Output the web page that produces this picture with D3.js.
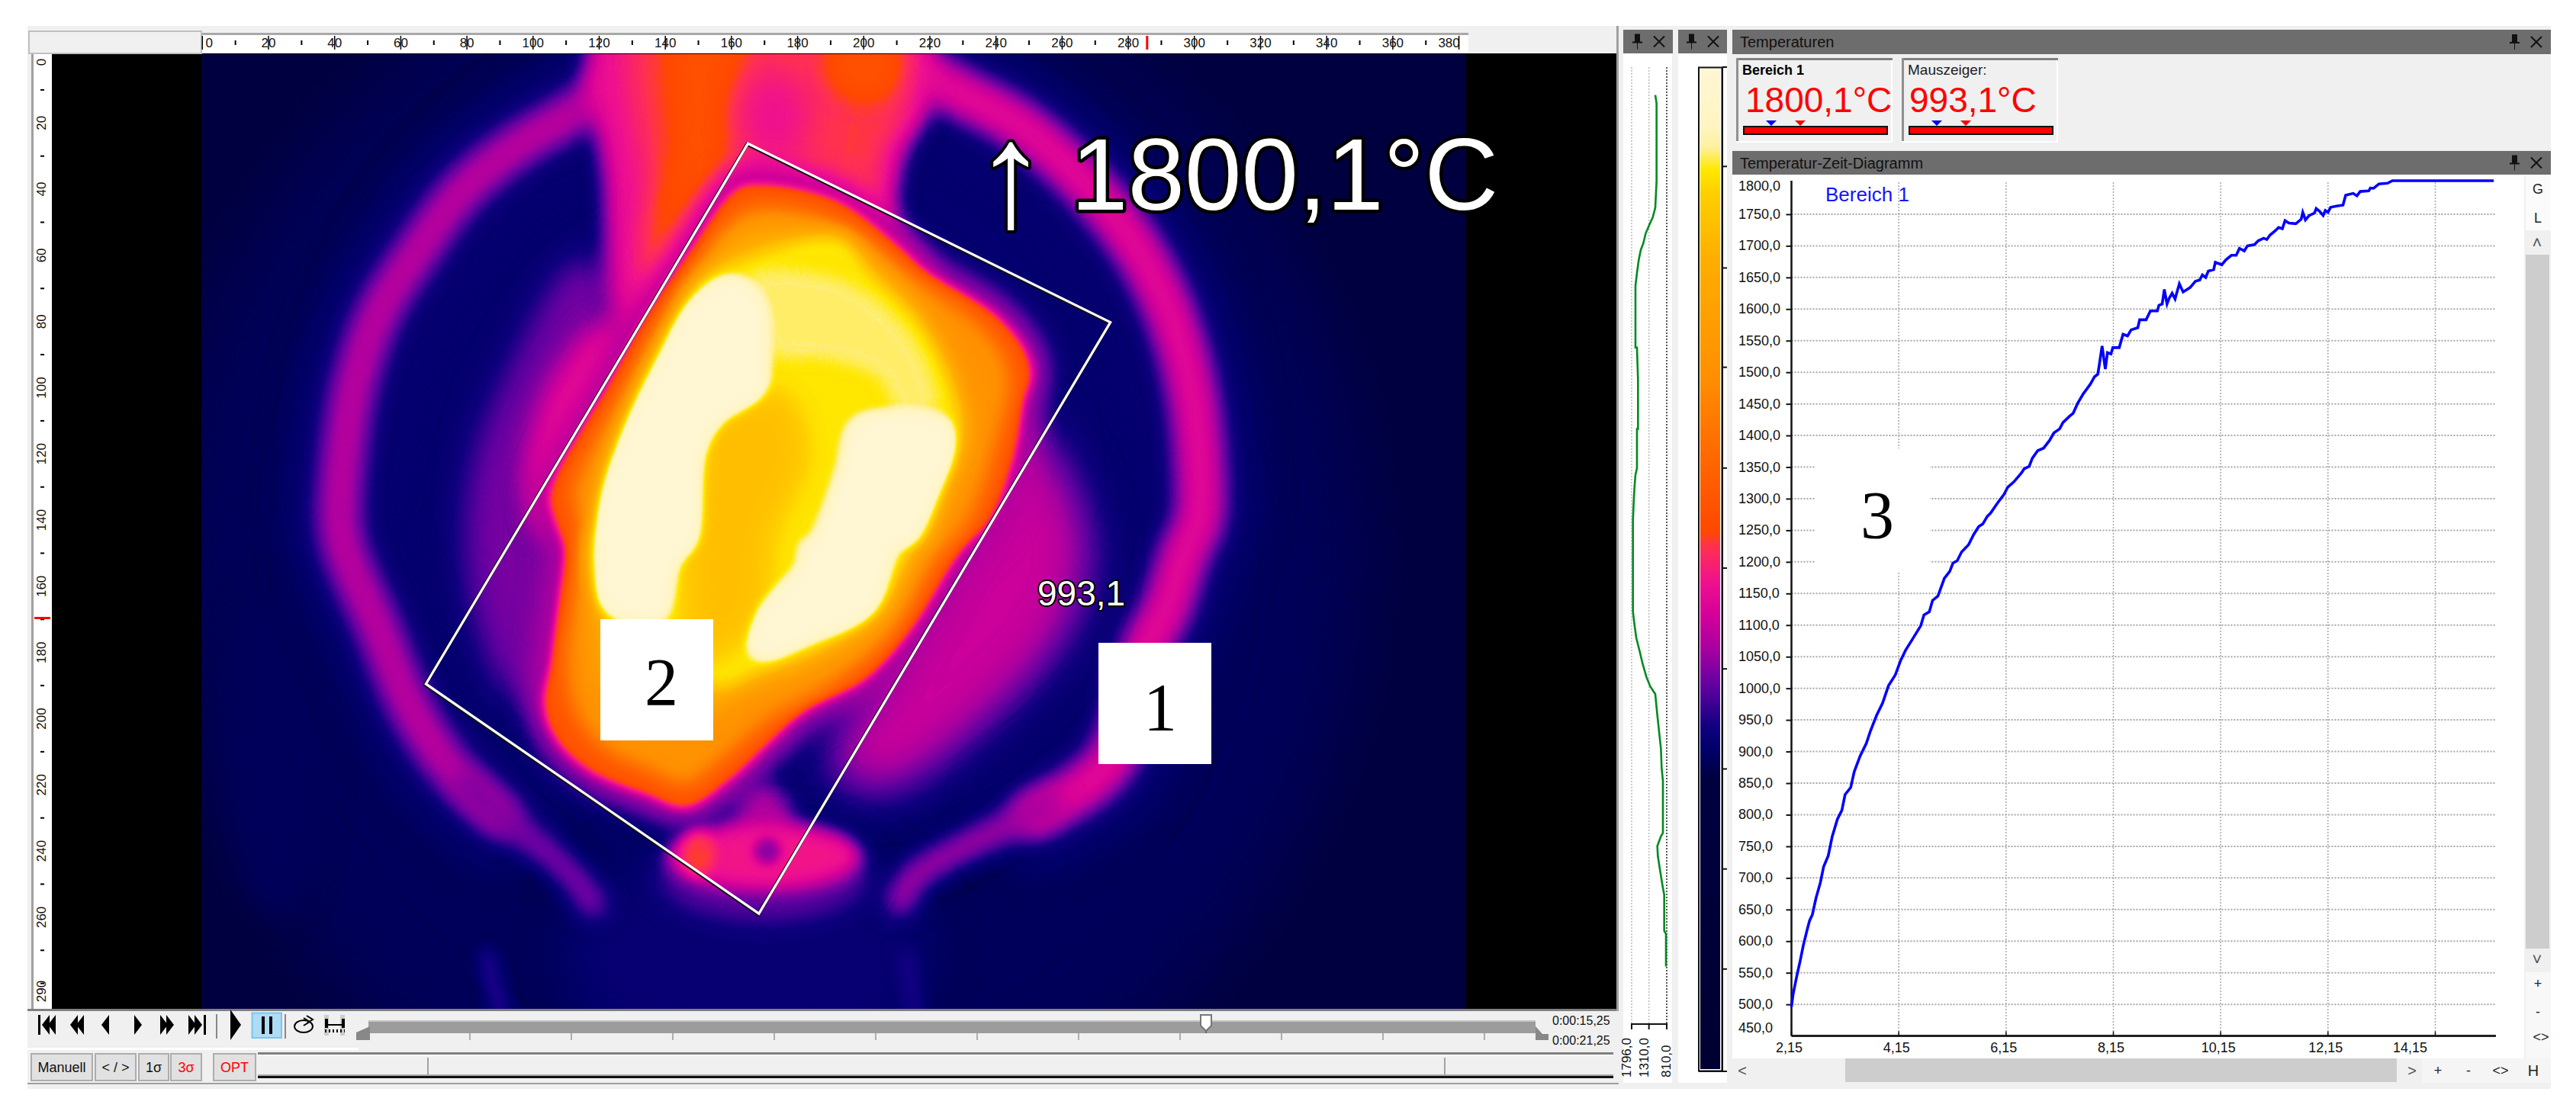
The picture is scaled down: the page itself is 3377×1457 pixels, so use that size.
<!DOCTYPE html>
<html>
<head>
<meta charset="utf-8">
<script src="https://cdn.jsdelivr.net/npm/d3@7"></script>
<style>
html, body { margin: 0; padding: 0; background: #fff; }
svg { display: block; }
text { font-family: "Liberation Sans", Arial, sans-serif; }
</style>
</head>
<body>
<div id="chart"></div>
<script>
// temperature-time curve
var curveTime = [2.15,2.18,2.245,2.31,2.37,2.435,2.486,2.54,2.607,2.69,2.75,2.835,2.91,3.007,3.09,3.15,3.254,3.32,3.43,3.546,3.62,3.736,3.85,3.958,4.085,4.18,4.276,4.40,4.56,4.62,4.72,4.78,4.88,5.0,5.1,5.16,5.24,5.32,5.45,5.545,5.64,5.716,5.8,5.86,5.99,6.115,6.18,6.3,6.44,6.485,6.58,6.64,6.74,6.85,6.96,7.04,7.15,7.21,7.34,7.40,7.485,7.59,7.72,7.80,7.86,7.89,7.94,7.97,8.0,8.04,8.105,8.14,8.26,8.33,8.415,8.48,8.605,8.64,8.76,8.84,8.97,9.0,9.06,9.1,9.15,9.19,9.245,9.3,9.38,9.45,9.58,9.68,9.76,9.81,9.87,9.92,10.02,10.05,10.17,10.25,10.35,10.44,10.5,10.59,10.65,10.78,10.85,10.95,11.01,11.07,11.17,11.23,11.3,11.35,11.42,11.55,11.65,11.68,11.73,11.8,11.9,11.93,11.99,12.06,12.1,12.15,12.2,12.31,12.43,12.48,12.62,12.69,12.75,12.91,12.94,13.0,13.1,13.26,13.35,15.24];
var curveTemp = [496,515.6,543,568,593,615.6,632,642,668,693,718,735,765.6,793,807,832,843,868,893,913,932,957,977,1004,1021,1043,1060,1077,1099,1116,1121,1139,1146,1174,1185,1198,1202,1215.6,1227,1243,1256,1260,1272,1277,1293,1307,1318,1327,1341,1347,1351,1364,1376,1380,1392,1404,1410.5,1420.5,1431,1435,1451,1466,1481,1493,1497,1513,1541.5,1523,1505,1531,1529,1539,1539,1560,1557.5,1567,1570.5,1583,1583,1597,1597,1606,1608,1631,1608,1617,1625,1616,1640,1627,1634,1644,1646,1654,1650,1660,1662.5,1674,1670,1678,1685,1685,1696,1692,1700,1702,1708,1712,1710,1717,1724,1729,1727,1740,1736,1735,1742,1753,1741,1748,1752,1759,1755,1748,1756,1753,1761,1763,1764.5,1780,1783,1779,1786,1787,1791.5,1791,1798,1799,1803,1803];
var yTicks = [500,550,600,650,700,750,800,850,900,950,1000,1050,1100,1150,1200,1250,1300,1350,1400,1450,1500,1550,1600,1650,1700,1750];
var yLabels = [450,500,550,600,650,700,750,800,850,900,950,1000,1050,1100,1150,1200,1250,1300,1350,1400,1450,1500,1550,1600,1650,1700,1750,1800];
var xTicks = [2.15,4.15,6.15,8.15,10.15,12.15,14.15];

// line profile next to the thermal image: image row and temperature
var profileRow = [8.4,8.4,10.9,34.4,42.3,45.2,47.2,50.1,53,55,58,61.9,65.8,84.4,84.4,94.2,108.9,108.9,120.7,122.7,126.6,129.5,136.4,163.8,167.8,171.7,175.6,179.5,183.5,186.4,188.7,194.2,200.1,205,210.9,214.8,230.5,231.5,234.4,237.4,242.3,246.2,249.1,259.9,260.9,270.7];
var profileTemp = [1132,1132,1096,1096,1132,1203,1289,1403,1467,1539,1596,1646,1689,1689,1646,1617,1617,1646,1646,1689,1717,1732,1760,1760,1717,1667,1575,1489,1382,1274,1132,1082,1024,974,953,917,917,974,1074,1060,989,931,881,881,831,831];
var profileTicks = [1796,1310,810];

// colour bar
var paletteTemp = [450,843,880,913,966,1018,1062,1106,1154,1176,1282,1387,1545,1633,1664,1694,1721,1800];
var paletteColor = ["#000030","#000040","#000068","#100080","#6000a0","#a800a0","#d40098","#ee1090","#ff3050","#ff4800","#ff6a00","#ff9000","#ffae00","#ffd000","#ffe800","#fff0a0","#fff5c0","#fff6d4"];
var barTicks = [1668,1531,1397,1261,1126,990,855,720,585];

// rulers of the thermal image
var columnTicks = d3.range(0, 390, 10);
var rowTicks = d3.range(0, 290, 10);
var rowLabels = [0,20,40,60,80,100,120,140,160,180,200,220,240,260,290];

// region outline
var regionOutline = [[165,26.2],[274.6,80.2],[168.3,258.9],[67.6,189.5]];

// thermal scene, image units (column, row)
var ringLeft = [[122,8],[115,15],[95,27],[79,40],[65.5,58],[53,78],[45.8,100],[42.7,120],[41.4,140],[43,149],[52.9,172],[62.7,196],[75,215],[89.7,229]];
var ringLeftLow = [[80,220],[89.7,229],[104,240],[114,250],[118,256]];
var ringRight = [[205,-5],[211,0],[227,9.75],[245.8,19.8],[260.6,31.8],[274,46],[284,60],[292.8,78],[299,100],[301.4,120],[301.4,140],[297.3,149],[291.2,167.6],[286,177],[274,213.7],[251.9,228.8]];
var ringRightLow = [[256,226],[240,234],[226,241],[215,248],[211,255]];
var glowLeft = [[115,60],[130,80],[120,110],[112,145],[110,185],[95,195],[82,170],[80,130],[92,95]];
var glowLeftCore = [[122,80],[128,88],[112,125],[105,145],[98,130],[105,100]];
var glowRight = [[248,110],[262,128],[268,150],[262,172],[240,198],[205,222],[190,215],[205,185],[230,140]];
var chimneyOuter = [[121,-12],[214,-12],[220,14],[212,30],[210,50],[222,70],[180,70],[130,95],[124,75],[122,40]];
var chimneyInner = [[133,-12],[210,-12],[213,14],[205,30],[203,52],[180,60],[136,80],[134,40]];
var chimneyHot = [[143,-12],[162,-12],[160,20],[158,42],[140,75],[136,60],[142,30]];
var bodyOuter = [[164.4,38.75],[190.2,42.75],[211.2,57.75],[218.6,64.75],[239.6,77.75],[248.3,87.75],[250.8,95.75],[248.3,104.75],[245.8,119.75],[238.4,139.75],[229.8,148.8],[215,172],[200.3,188.3],[183,196.8],[170.8,208],[158.5,219.4],[146.2,226.9],[134,223],[116.7,215.6],[106.9,206.2],[103.2,195.8],[105.7,181.7],[108.1,163],[109.4,148.8],[106.3,139.75],[105.1,132],[122.4,99.75],[134.8,77.75],[147,59.75],[159.5,41.75]];
var bodyMid = [[165,46],[192,50],[212,65],[236,82],[244,95],[240,118],[232,140],[222,152],[208,175],[190,190],[172,200],[155,214],[146,220],[136,216],[120,208],[112,196],[110,180],[113,160],[114,140],[112,132],[128,100],[140,78],[152,60]];
var bodyInner = [[163,54],[192,54],[210,68],[226,90],[232,112],[226,132],[216,150],[205,170],[185,184],[165,192],[148,200],[125,195],[118,170],[118,140],[125,115],[140,85],[152,65]];
var bodyYellow = [[159.5,62],[192.6,54],[202.6,64.75],[217.4,79.75],[227.3,99.75],[229.8,114.75],[224.8,130],[218.6,146.5],[215,148.8],[205,167.6],[185.5,179.8],[168.3,186.4],[156,191],[135,182],[121.6,169.5],[119.2,163],[116.7,148.8],[120,139.75],[122.4,124.75],[132.3,99.75],[141,81.75],[149.6,67.75]];
var bodyCentre = [[152,110],[175,102],[182,120],[172,145],[168,170],[150,182],[146,160],[148,130]];
var creamLeft = [[159.5,66.75],[168,72],[170.6,89.75],[169.4,101.75],[157,110.75],[152,119.75],[149.6,146.5],[143.8,153.5],[138.9,169.5],[121.6,166.7],[119.2,148.8],[120,135],[128.6,110],[138.5,90],[147.1,74.75]];
var creamTop = [[165,66],[190,66],[206,75],[218,90],[222,108],[212,112],[205,98],[190,92],[172,90],[168,78]];
var creamRight = [[197.6,110],[224.8,110],[227,118],[221,135],[214.9,146.5],[210,148.8],[202.7,167.6],[183,177],[170.8,181.7],[166,180],[168.3,167.6],[180.6,153.5],[181.8,147],[184,146.5],[192.6,125.75]];

var width = 3377;
var height = 1457;

var svg = d3.select("#chart").append("svg")
	.attr("width", width)
	.attr("height", height);

var xImg = d3.scaleLinear().domain([0, 380]).range([265.3, 1912.6]);
var yImg = d3.scaleLinear().domain([0, 288]).range([74.5, 1324.4]);

function box(x0, y0, x1, y1, fill, stroke, sw) {
	return svg.append("rect")
		.attr("x", x0).attr("y", y0)
		.attr("width", x1 - x0).attr("height", y1 - y0)
		.attr("fill", fill)
		.attr("stroke", stroke || "none")
		.attr("stroke-width", sw || 0);
}
function label(x, y, str, size, color, opts) {
	opts = opts || {};
	var t = svg.append("text")
		.attr("x", x).attr("y", y)
		.attr("font-size", size)
		.attr("fill", color || "#000")
		.attr("text-anchor", opts.anchor || "start")
		.text(str);
	if (opts.weight) t.attr("font-weight", opts.weight);
	if (opts.family) t.style("font-family", opts.family);
	if (opts.rotate) t.attr("transform", "rotate(" + opts.rotate + " " + x + " " + y + ")");
	return t;
}
function shape(points, fill) {
	return svg.append("path")
		.attr("d", "M" + points.map(function(p) { return p.join(","); }).join("L") + "Z")
		.attr("fill", fill);
}
function seg(x0, y0, x1, y1, color, sw, dash) {
	var l = svg.append("line")
		.attr("x1", x0).attr("y1", y0).attr("x2", x1).attr("y2", y1)
		.attr("stroke", color).attr("stroke-width", sw || 1);
	if (dash) l.attr("stroke-dasharray", dash);
	return l;
}

// window background
box(36, 34, 3344, 1428, "#f0f0f0");

// ---- thermal image ----
box(68, 70, 2119, 1323, "#000");

var imgX0 = 264, imgY0 = 71, imgW = 1658, imgH = 1252;
var palette = d3.scaleLinear().domain(paletteTemp).range(paletteColor).clamp(true);
var toGray = d3.scaleLinear().domain([450, 1800]).range([0, 255]).clamp(true);

var field = document.createElement("canvas");
field.width = imgW;
field.height = imgH;
var ctx = field.getContext("2d", { willReadFrequently: true });

function grayOf(temp) {
	var g = Math.round(toGray(temp));
	return "rgb(" + g + "," + g + "," + g + ")";
}
var fieldClosed = d3.line()
	.x(function(d) { return xImg(d[0]) - imgX0; })
	.y(function(d) { return yImg(d[1]) - imgY0; })
	.curve(d3.curveCatmullRomClosed.alpha(0.5))
	.context(ctx);
var fieldOpen = d3.line()
	.x(function(d) { return xImg(d[0]) - imgX0; })
	.y(function(d) { return yImg(d[1]) - imgY0; })
	.curve(d3.curveCatmullRom.alpha(0.5))
	.context(ctx);

function fillArea(points, temp, blur) {
	ctx.filter = "blur(" + blur + "px)";
	ctx.fillStyle = grayOf(temp);
	ctx.beginPath();
	fieldClosed(points);
	ctx.fill();
}
function strokeArea(points, temp, lineW, blur, closed) {
	ctx.filter = "blur(" + blur + "px)";
	ctx.strokeStyle = grayOf(temp);
	ctx.lineWidth = lineW * 4.335;
	ctx.lineCap = "round";
	ctx.lineJoin = "round";
	ctx.beginPath();
	if (closed) fieldClosed(points); else fieldOpen(points);
	ctx.stroke();
}
function fillEllipse(cx, cy, rx, ry, temp, blur) {
	ctx.filter = "blur(" + blur + "px)";
	ctx.fillStyle = grayOf(temp);
	ctx.beginPath();
	ctx.ellipse(xImg(cx) - imgX0, yImg(cy) - imgY0, rx * 4.335, ry * 4.34, 0, 0, 2 * Math.PI);
	ctx.fill();
}

ctx.fillStyle = grayOf(838);
ctx.fillRect(0, 0, imgW, imgH);

// cool surroundings
fillEllipse(170, 150, 185, 190, 870, 70);
fillEllipse(170, 120, 130, 125, 892, 35);
fillEllipse(165, 270, 55, 35, 893, 30);
fillEllipse(22, 210, 14, 50, 868, 20);

// ring
strokeArea(ringLeft, 895, 32, 22, false);
strokeArea(ringRight, 895, 34, 22, false);
strokeArea(ringLeft, 1035, 13, 15, false);
strokeArea(ringRight, 1085, 14, 15, false);
strokeArea(ringLeftLow, 990, 9, 14, false);
strokeArea(ringRightLow, 1015, 9, 14, false);

// faint legs at the bottom
strokeArea([[86, 272], [92, 296]], 935, 5, 10, false);
strokeArea([[213, 272], [216, 296]], 925, 5, 10, false);

// glow beside the body
fillArea(glowLeft, 985, 24);
fillArea(glowLeftCore, 1095, 16);
fillArea(glowRight, 1055, 32);

// chimney above the body
fillArea(chimneyOuter, 1105, 14);
fillArea(chimneyInner, 1160, 16);
fillArea(chimneyHot, 1195, 18);
fillEllipse(173, 18, 11, 14, 1105, 22);
fillEllipse(200, 2, 11, 11, 1195, 14);

// foot below the body
fillEllipse(169.8, 232, 9, 12, 1040, 14);
fillEllipse(169.8, 247, 32, 14, 975, 18);
fillEllipse(169.8, 241.5, 29, 10, 1110, 11);
fillEllipse(150, 240.5, 5, 7, 1165, 8);
fillEllipse(170.8, 240, 4, 4, 1000, 6);

// body, from outside in
strokeArea(bodyOuter, 1030, 11, 16, true);
fillArea(bodyOuter, 1210, 6);
fillArea(bodyMid, 1400, 13);
fillArea(bodyInner, 1540, 14);
fillArea(bodyYellow, 1660, 10);
fillArea(bodyCentre, 1590, 16);
fillArea(creamTop, 1682, 10);
fillArea(creamLeft, 1795, 8);
fillArea(creamRight, 1795, 8);
ctx.filter = "none";

// gray levels through the colour bar palette
var lut = d3.range(256).map(function(g) { return d3.rgb(palette(toGray.invert(g))); });
var pixels = ctx.getImageData(0, 0, imgW, imgH);
for (var i = 0; i < pixels.data.length; i += 4) {
	var c = lut[pixels.data[i]];
	pixels.data[i] = c.r;
	pixels.data[i + 1] = c.g;
	pixels.data[i + 2] = c.b;
	pixels.data[i + 3] = 255;
}
ctx.putImageData(pixels, 0, 0);
svg.append("image")
	.attr("x", imgX0).attr("y", imgY0)
	.attr("width", imgW).attr("height", imgH)
	.attr("href", field.toDataURL("image/png"));

// region outline
var regionPath = "M" + regionOutline.map(function(d) { return [xImg(d[0]), yImg(d[1])].join(","); }).join("L") + "Z";
svg.append("path").attr("d", regionPath).attr("fill", "none").attr("stroke", "#111").attr("stroke-width", 4.5).attr("transform", "translate(-1,1)");
svg.append("path").attr("d", regionPath).attr("fill", "none").attr("stroke", "#fff").attr("stroke-width", 3.2);

// value overlays
label(1325, 296, "\u2191", 195, "#fff", { anchor: "middle" })
	.attr("stroke", "#000").attr("stroke-width", 8).attr("paint-order", "stroke").attr("stroke-linejoin", "round");
label(1404, 275, "1800,1\u00b0C", 134, "#fff")
	.attr("stroke", "#000").attr("stroke-width", 9).attr("paint-order", "stroke").attr("stroke-linejoin", "round");
label(1360, 794, "993,1", 46, "#fff")
	.attr("stroke", "#000").attr("stroke-width", 4).attr("paint-order", "stroke").attr("stroke-linejoin", "round");

// image frame
box(36, 1323, 2119, 1326, "#808080");
box(264, 43, 1925, 68, "#fff");
box(264, 43, 1925, 46, "#a8a8a8");
box(42, 70, 68, 1323, "#fff");
box(41, 70, 44, 1323, "#a0a0a0");
box(38, 41, 264, 70, "#f0f0f0", "#c0c0c0", 2);
box(2119, 34, 2122, 1326, "#a0a0a0");

// rulers
columnTicks.forEach(function(v) {
	var major = v % 20 === 0;
	seg(xImg(v), major ? 47 : 53, xImg(v), major ? 65 : 59, "#000", major ? 1.5 : 2);
	if (major) {
		var dx = v === 0 ? 9 : v === 380 ? -13 : 0;
		label(xImg(v) + dx, 62, String(v), 17, "#111", { anchor: "middle" });
	}
});
rowTicks.forEach(function(v) {
	if (rowLabels.indexOf(v) < 0) seg(53, yImg(v), 58, yImg(v), "#000", 2);
});
rowLabels.forEach(function(v) {
	var dy = v === 0 ? 7 : v === 290 ? -33 : 0;
	label(60, yImg(v) + dy, String(v), 17, "#111", { anchor: "middle", rotate: -90 });
});
box(xImg(285.7) - 1.5, 47, xImg(285.7) + 1.5, 65, "#ff0000");
box(45, 809, 66, 812, "#ff0000");

// ---- transport bar ----
var ic = 1344;
function tri(x, dir, h, w) {
	shape([[x - dir * w / 2, ic - h], [x + dir * w / 2, ic], [x - dir * w / 2, ic + h]], "#000");
}
box(50, ic - 13, 53, ic + 13, "#000"); tri(60, -1, 13, 10); tri(68, -1, 13, 10);
tri(97, -1, 13, 10); tri(105, -1, 13, 10);
tri(138, -1, 13, 10);
tri(181, 1, 13, 10);
tri(215, 1, 13, 10); tri(223, 1, 13, 10);
tri(252, 1, 13, 10); tri(260, 1, 13, 10); box(267, ic - 13, 270, ic + 13, "#000");
seg(284, 1330, 284, 1362, "#888", 2);
seg(374, 1330, 374, 1362, "#888", 2);
tri(309, 1, 20, 14);
box(330.5, 1328.5, 369, 1361, "#aedcf5", "#7cc4f0", 2);
box(343, 1333, 347, 1356, "#000");
box(353, 1333, 357, 1356, "#000");
// loop and range icons
svg.append("path").attr("d", "M386 1346 a12 8 0 1 0 24 0 a12 8 0 1 0 -24 0 M398 1335 l8 5 l-8 5 M402 1332 l8 5 l-8 5")
	.attr("fill", "none").attr("stroke", "#000").attr("stroke-width", 2);
box(425, 1331, 431, 1358, "#ccc");
box(446, 1331, 452, 1358, "#ccc");
seg(428, 1344, 450, 1344, "#000", 2);
seg(428, 1336, 428, 1348, "#000", 4);
seg(450, 1336, 450, 1348, "#000", 4);
seg(426, 1352, 452, 1352, "#000", 4, "2 3");

// position slider
box(483, 1338, 2013, 1355, "#9c9c9c");
box(483, 1338, 2013, 1340, "#c4c4c4");
d3.range(616, 2000, 133).forEach(function(x) { seg(x, 1355, x, 1364, "#999", 1.5); });
shape([[467, 1364], [467, 1354], [485, 1346], [485, 1364]], "#888");
shape([[2013, 1346], [2022, 1356], [2030, 1356], [2030, 1364], [2013, 1364]], "#888");
seg(1581, 1350, 1581, 1355, "#555", 1.5);
shape([[1574, 1331], [1588, 1331], [1588, 1345], [1581, 1352], [1574, 1345]], "#fff").attr("stroke", "#777").attr("stroke-width", 2);
label(2035, 1344, "0:00:15,25", 16, "#111");
label(2035, 1370, "0:00:21,25", 16, "#111");

// button row
function button(x0, x1, str, color) {
	box(x0, 1382, x1, 1417, "#e1e1e1", "#adadad", 2);
	label((x0 + x1) / 2, 1406, str, 18, color, { anchor: "middle" });
}
button(41, 121, "Manuell", "#111");
button(125, 178, "< / >", "#111");
button(182, 221, "1\u03c3", "#111");
button(224, 264, "3\u03c3", "#ff0000");
button(280, 335, "OPT", "#ff0000");

box(338, 1381, 2115, 1415, "#f0f0f0");
box(338, 1380, 2115, 1383, "#808080");
box(338, 1383, 2115, 1385, "#fff");
box(338, 1411, 2115, 1414, "#111");
box(338, 1409, 2115, 1411, "#aaa");
seg(561, 1387, 561, 1409, "#888", 1.5);
seg(1894, 1387, 1894, 1409, "#888", 1.5);
box(36, 1420, 2122, 1422, "#a0a0a0");
box(36, 1374, 470, 1377, "#fff");

// ---- panel headers ----
function pin(x, y) {
	svg.append("path")
		.attr("d", "M" + (x - 3) + " " + (y - 10) + "h7v10h3v2h-6v8h-1v-8h-6v-2h3z")
		.attr("fill", "#111");
}
function closeX(x, y) {
	seg(x - 7, y - 7, x + 7, y + 7, "#111", 2);
	seg(x - 7, y + 7, x + 7, y - 7, "#111", 2);
}
function header(x0, x1, y0, y1, title, pinX, closeXAt) {
	box(x0, y0, x1, y1, "#6d6d6d");
	var my = (y0 + y1) / 2;
	if (title) label(x0 + 10, my + 7, title, 20, "#111");
	pin(pinX, my);
	closeX(closeXAt, my);
}
box(2128, 70, 2192, 1420, "#fff");
box(2200, 70, 2264, 1420, "#fff");
header(2128, 2193, 39, 70, null, 2146, 2175);
header(2200, 2264, 39, 70, null, 2217, 2246);
header(2271, 3344, 39, 71, "Temperaturen", 3296, 3325);
header(2271, 3344, 198, 229, "Temperatur-Zeit-Diagramm", 3296, 3325);

// ---- line profile ----
var xProfile = d3.scaleLinear().domain([1796, 810]).range([2139, 2185]);
var yProfile = d3.scaleLinear().domain([0, 288]).range([88, 1343]);
profileTicks.forEach(function(v, i) {
	var x = xProfile(v);
	seg(x, 88, x, 1343, i === 2 ? "#222" : "#bbb", 1.5, "2 2");
	seg(x, 1343, x, 1350, "#111", 2);
	label(x + 1 + (i === 2 ? 4 : -2), 1413, v + ",0", 17, "#111", { rotate: -90 });
});
seg(2138, 1343, 2186, 1343, "#111", 2);
svg.append("path")
	.attr("d", d3.line()
		.x(function(d) { return xProfile(d[1]); })
		.y(function(d) { return yProfile(d[0]); })(d3.zip(profileRow, profileTemp)))
	.attr("fill", "none")
	.attr("stroke", "#008a20")
	.attr("stroke-width", 2.6);

// ---- colour bar ----
var yBar = d3.scaleLinear().domain([450, 1800]).range([1402, 90]);
var grad = svg.append("defs").append("linearGradient")
	.attr("id", "iron").attr("x1", 0).attr("y1", 1).attr("x2", 0).attr("y2", 0);
grad.selectAll("stop").data(d3.zip(paletteTemp, paletteColor)).enter().append("stop")
	.attr("offset", function(d) { return (d[0] - 450) / 1350; })
	.attr("stop-color", function(d) { return d[1]; });
box(2229, 90, 2255, 1402, "url(#iron)");
box(2227, 88.5, 2257.5, 1404.5, "none", "#111", 2);
seg(2258, 88, 2258, 1405, "#111", 2);
seg(2258, 88, 2264, 88, "#111", 2);
seg(2227, 1405, 2264, 1405, "#111", 2);
barTicks.forEach(function(v) { seg(2258, yBar(v), 2264, yBar(v), "#111", 2); });

// ---- temperature cards ----
function card(x0, title, bold, value, textX) {
	box(x0, 76, x0 + 205, 187, "#f0f0f0");
	box(x0, 76, x0 + 205, 79, "#808080");
	box(x0, 76, x0 + 3, 187, "#909090");
	box(x0 + 203, 79, x0 + 205, 187, "#fff");
	box(x0, 185, x0 + 205, 187, "#fff");
	label(x0 + 8, 98, title, bold ? 18 : 19, bold ? "#000" : "#222", { weight: bold ? "bold" : null });
	label(textX, 147, value, 46, "#ff0000");
	box(x0 + 10, 166, x0 + 198, 176, "#ff0000", "#111", 2);
	shape([[x0 + 39, 158], [x0 + 53, 158], [x0 + 46, 165]], "#0000ff");
	shape([[x0 + 77, 158], [x0 + 91, 158], [x0 + 84, 165]], "#ff0000");
}
card(2276, "Bereich 1", true, "1800,1\u00b0C", 2288);
card(2493, "Mauszeiger:", false, "993,1\u00b0C", 2503);

// ---- temperature-time diagram ----
box(2271, 229, 3309, 1388, "#fff");

var x = d3.scaleLinear().domain([2.15, 15.28]).range([2348.5, 3272]);
var y = d3.scaleLinear().domain([450, 1803]).range([1358.6, 237]);

svg.append("g").selectAll("line").data(yTicks).enter().append("line")
	.attr("x1", x(2.15)).attr("x2", x(15.28))
	.attr("y1", function(d) { return y(d); }).attr("y2", function(d) { return y(d); })
	.attr("stroke", "#a8a8a8").attr("stroke-width", 2).attr("stroke-dasharray", "2 2");
svg.append("g").selectAll("line").data(xTicks.slice(1)).enter().append("line")
	.attr("x1", function(d) { return x(d); }).attr("x2", function(d) { return x(d); })
	.attr("y1", 239).attr("y2", y(450))
	.attr("stroke", "#a8a8a8").attr("stroke-width", 1.5).attr("stroke-dasharray", "2 2");

var yAxis = d3.axisLeft(y).tickValues(yTicks).tickSize(7).tickFormat("");
var xAxis = d3.axisBottom(x).tickValues(xTicks).tickSize(0).tickFormat("");
var gy = svg.append("g").attr("transform", "translate(" + x(2.15) + ",0)").call(yAxis);
gy.select(".domain").attr("d", "M0," + y(1803) + "V" + y(450)).attr("stroke", "#111").attr("stroke-width", 2.5);
gy.selectAll(".tick line").attr("stroke", "#111").attr("stroke-width", 2);
var gx = svg.append("g").attr("transform", "translate(0," + y(450) + ")").call(xAxis);
gx.select(".domain").attr("d", "M" + x(2.15) + ",0H" + x(15.28)).attr("stroke", "#222").attr("stroke-width", 3);
xTicks.forEach(function(v) { seg(x(v), y(450) - 6, x(v), y(450), "#111", 1.5); });

yLabels.forEach(function(v) {
	var dy = v === 450 ? -11 : v === 1800 ? 5 : 0;
	label(2279, y(v) + dy + 6, v.toFixed(1).replace(".", ","), 18, "#111");
});
xTicks.forEach(function(v) {
	var dx = v === 14.15 ? -33 : -3;
	label(x(v) + dx, 1380, v.toFixed(2).replace(".", ","), 18, "#111", { anchor: "middle" });
});

svg.append("path")
	.attr("d", d3.line()
		.x(function(d) { return x(d[0]); })
		.y(function(d) { return y(d[1]); })(d3.zip(curveTime, curveTemp)))
	.attr("fill", "none")
	.attr("stroke", "#0000ff")
	.attr("stroke-width", 3.6);

label(2393, 264, "Bereich 1", 26, "#1414ff");

// side buttons and scroll bars
box(3311, 229, 3344, 302, "#fbfbfb");
label(3327, 254, "G", 18, "#222", { anchor: "middle" });
label(3327, 292, "L", 18, "#222", { anchor: "middle" });
box(3311, 334, 3342, 1244, "#cdcdcd");
label(3326, 326, "\u02c4", 22, "#555", { anchor: "middle" });
label(3326, 1266, "\u02c5", 22, "#555", { anchor: "middle" });
box(3311, 1275, 3344, 1388, "#f8f8f8");
label(3327, 1296, "+", 18, "#222", { anchor: "middle" });
label(3327, 1333, "-", 18, "#222", { anchor: "middle" });
label(3331, 1366, "<>", 18, "#222", { anchor: "middle" });

box(2271, 1388, 3344, 1420, "#f0f0f0");
box(2419, 1388, 3142, 1419, "#cdcdcd");
label(2284, 1411, "<", 20, "#555", { anchor: "middle" });
label(3162, 1411, ">", 20, "#555", { anchor: "middle" });
box(3175, 1388, 3344, 1420, "#f5f5f5");
label(3196, 1410, "+", 18, "#222", { anchor: "middle" });
label(3236, 1410, "-", 18, "#222", { anchor: "middle" });
label(3278, 1410, "<>", 18, "#222", { anchor: "middle" });
label(3321, 1411, "H", 20, "#222", { anchor: "middle" });

// ---- numbered white boxes ----
box(787, 812, 935, 971, "#fff");
box(1440, 843, 1588, 1002, "#fff");
box(2380, 588, 2530, 749, "#fff");
var serif = { anchor: "middle", family: "'Liberation Serif', serif" };
label(867, 924, "2", 88, "#000", serif);
label(1521, 957, "1", 88, "#000", serif);
label(2461, 705, "3", 88, "#000", serif);
</script>
</body>
</html>
